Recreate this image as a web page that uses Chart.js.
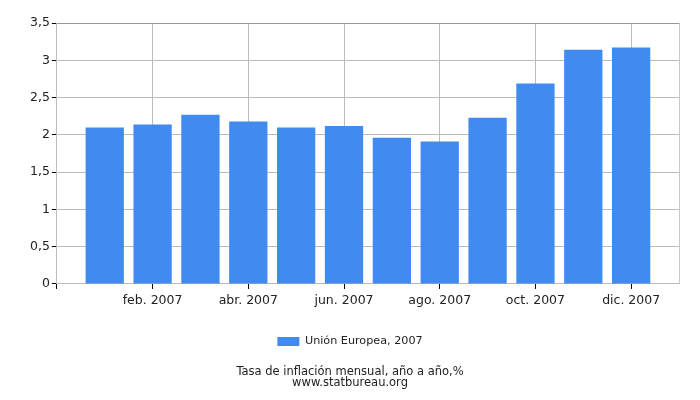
<!DOCTYPE html>
<html>
<head>
<meta charset="utf-8">
<script src="https://cdn.jsdelivr.net/npm/chart.js@4"></script>
<style>
    body { margin: 0; background: #fff; }
    #wrap { width: 700px; height: 400px; }
</style>
</head>
<body>
<div id="wrap"><canvas id="chart" width="700" height="400"></canvas></div>
<script>
const months = ['ene. 2007', 'feb. 2007', 'mar. 2007', 'abr. 2007', 'may. 2007', 'jun. 2007',
    'jul. 2007', 'ago. 2007', 'sep. 2007', 'oct. 2007', 'nov. 2007', 'dic. 2007'];
const inflation = [2.1, 2.14, 2.27, 2.18, 2.1, 2.12, 1.96, 1.91, 2.23, 2.69, 3.14, 3.17];
const yTicks = [0, 0.5, 1, 1.5, 2, 2.5, 3, 3.5];
const seriesName = 'Unión Europea, 2007';
const titleLines = ['Tasa de inflación mensual, año a año,%', 'www.statbureau.org'];

const font = 'DejaVu Sans';
const ctx = document.getElementById('chart').getContext('2d');

new Chart(ctx, {
    type: 'bar',
    data: {
        datasets: [
            {
                label: seriesName,
                data: months.map((m, i) => ({ x: i + 1, y: inflation[i] })),
                backgroundColor: '#418bf0',
                borderWidth: 0,
                barPercentage: 0.8,
                categoryPercentage: 1,
            },
        ],
    },
    options: {
        responsive: false,
        animation: false,
        devicePixelRatio: 1,
        layout: {
            padding: { top: 23, right: 21, left: 21, bottom: 12 },
        },
        scales: {
            x: {
                type: 'linear',
                offset: false,
                min: 0,
                max: months.length + 1,
                grid: {
                    color: (c) => (c.tick && c.tick.value === months.length + 1 ? '#c8c8c8' : '#bbbbbb'),
                    tickColor: (c) => (c.tick && c.tick.value === months.length + 1 ? 'rgba(0,0,0,0)' : '#000'),
                    tickLength: 5,
                    offset: false,
                },
                border: { color: '#bbbbbb' },
                afterBuildTicks: (axis) => {
                    const t = [{ value: 0 }];
                    months.forEach((m, i) => t.push({ value: i + 1 }));
                    t.push({ value: months.length + 1 });
                    axis.ticks = t;
                },
                ticks: {
                    autoSkip: false,
                    maxRotation: 0,
                    padding: 4,
                    color: '#222',
                    font: { family: font, size: 12.5 },
                    callback: (v) => {
                        if (v === 0 || v === months.length + 1) return '';
                        return v % 2 === 0 ? months[v - 1] : null;
                    },
                },
            },
            y: {
                min: 0,
                max: 3.5,
                afterBuildTicks: (axis) => {
                    axis.ticks = yTicks.map((v) => ({ value: v }));
                },
                afterFit: (axis) => {
                    axis.width += 7;
                },
                grid: {
                    color: (c) => (c.tick && c.tick.value === 3.5 ? '#999999' : '#bbbbbb'),
                    tickColor: '#000',
                    tickLength: 5,
                },
                border: { color: '#bbbbbb' },
                ticks: {
                    padding: 2,
                    color: '#222',
                    font: { family: font, size: 12.5 },
                    callback: (v) => String(v).replace('.', ','),
                },
            },
        },
        plugins: {
            legend: {
                position: 'bottom',
                labels: {
                    boxWidth: 22,
                    boxHeight: 9,
                    padding: 24,
                    color: '#222',
                    font: { family: font, size: 11.2 },
                },
            },
            title: {
                display: true,
                position: 'bottom',
                text: titleLines,
                color: '#222',
                font: { family: font, size: 11.5, weight: 'normal', lineHeight: 0.95 },
                padding: { top: 9, bottom: 0 },
            },
            tooltip: { enabled: false },
        },
    },
});
</script>
</body>
</html>
